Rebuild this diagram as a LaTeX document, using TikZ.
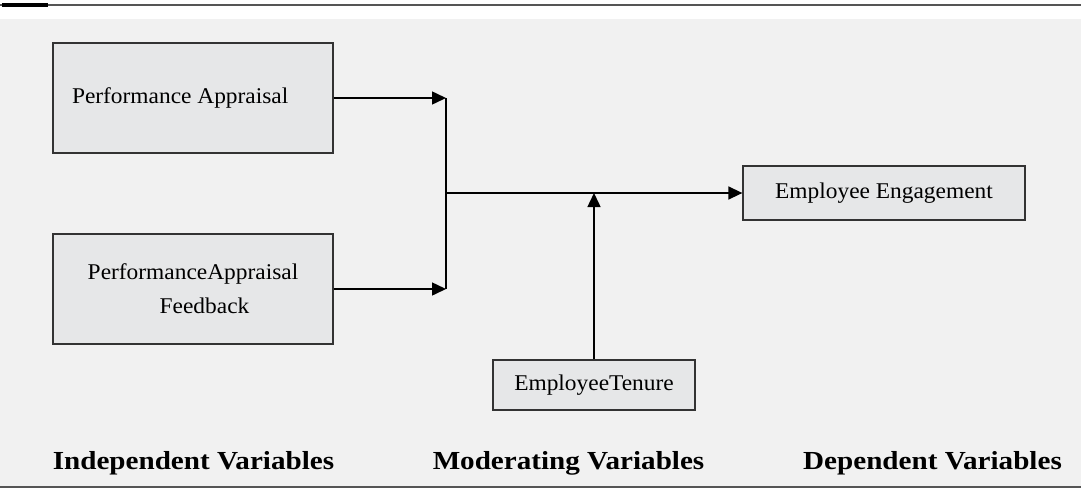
\documentclass[tikz,border=0pt]{standalone}
\usepackage{fontspec}
\setmainfont{Liberation Serif}[FakeStretch=1.04]
\newfontfamily\catfont{Liberation Serif}[FakeStretch=1.12]
\usetikzlibrary{arrows.meta}
\definecolor{bgc}{HTML}{F1F1F1}
\definecolor{boxc}{HTML}{E6E7E8}
\definecolor{edgec}{HTML}{333333}
\definecolor{rulec}{HTML}{555555}
\tikzset{
  varbox/.style={draw=edgec, fill=boxc, line width=1.3pt, rectangle, font=\fontsize{22.5}{34}\selectfont},
  conn/.style={line width=1.5pt, draw=black},
  arr/.style={conn, -{Triangle[length=14pt,width=13pt]}},
  cat/.style={font=\catfont\fontsize{26}{30}\selectfont\bfseries, inner sep=0pt}
}
\begin{document}
\begin{tikzpicture}[x=1pt,y=-1pt]
\useasboundingbox (0,0) rectangle (1081,493);
\fill[bgc] (0,19) rectangle (1081,487);
\draw[rulec, line width=1.5pt] (0,5) -- (1081,5);
\draw[black, line width=4pt] (2,5) -- (48,5);
\draw[rulec, line width=2pt] (0,487) -- (1081,487);

\node[varbox, minimum width=280pt, minimum height=110pt, text width=242pt, inner xsep=19pt, align=flush left] (pa) at (193,98) {Performance Appraisal};
\node[varbox, minimum width=280pt, minimum height=110pt, align=center] (paf) at (193,289) {PerformanceAppraisal\\\hspace*{23pt}Feedback};
\node[varbox, minimum width=282pt, minimum height=54pt] (ee) at (884,193) {Employee Engagement};
\node[varbox, minimum width=202pt, minimum height=50pt] (et) at (594,385) {EmployeeTenure};

\coordinate (j1) at (446,98);
\coordinate (j2) at (446,289);
\coordinate (jm) at (446,193);

\draw[arr] (pa.east) -- (j1);
\draw[arr] (paf.east) -- (j2);
\draw[conn] (j1) -- (j2);
\draw[arr] (jm) -- (ee.west);
\draw[arr] (et.north) -- (et.north |- jm);

\node[cat] (iv) at (193.5,463) {Independent Variables};
\node[cat] (mv) at (568.5,463) {Moderating Variables};
\node[cat] (dv) at (932.5,463) {Dependent Variables};
\end{tikzpicture}
\end{document}
